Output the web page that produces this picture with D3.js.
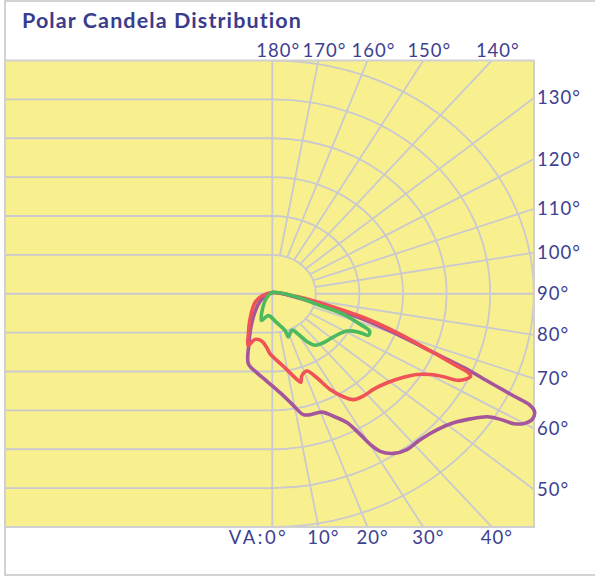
<!DOCTYPE html>
<html>
<head>
<meta charset="utf-8">
<script src="https://cdn.jsdelivr.net/npm/d3@7"></script>
<style>
  body { margin: 0; background: #fff; }
  svg { display: block; font-family: "Century Gothic", Lato, sans-serif; }
</style>
</head>
<body>
<svg id="chart" width="595" height="576"></svg>
<script>
// grid rings (candela units) and spoke angles (vertical angle, 0 = straight down)
const rings = [1, 2, 3, 4, 5, 6];
const spokes = [10, 20, 30, 40, 50, 60, 70, 80, 90, 100, 110, 120, 130, 140, 150, 160, 170];
const leftRows = [-5, -4, -3, -2, -1, 0, 1, 2, 3, 4, 5];

const topLabels = [180, 170, 160, 150, 140];
const rightLabels = [130, 120, 110, 100, 90, 80, 70, 60, 50];
const bottomLabels = [0, 10, 20, 30, 40];

// [vertical angle, candela]
const purpleCurve = [
  [180, 0.03], [80.1, 0.57], [75.0, 1.37], [72.6, 2.19], [70.0, 3.05], [67.9, 3.91],
  [66.6, 4.79], [65.4, 5.50], [64.6, 6.13], [64.2, 6.54], [63.2, 6.74], [61.5, 6.78],
  [60.0, 6.67], [58.9, 6.47], [58.3, 6.15], [57.3, 5.86], [54.7, 5.57], [51.4, 5.32],
  [47.3, 5.15], [42.2, 5.06], [37.6, 5.06], [34.1, 4.96], [31.4, 4.75], [30.1, 4.48],
  [29.1, 4.14], [27.3, 3.73], [24.0, 3.45], [20.5, 3.25], [15.6, 3.23], [12.9, 3.19],
  [9.5, 2.91], [4.0, 2.55], [-3.3, 2.25], [-10.0, 2.06], [-17.0, 1.88], [-22.4, 1.41],
  [-28.7, 1.04], [-35.8, 0.75], [-49.9, 0.42], [-71.3, 0.18]
];

const redCurve = [
  [180, 0.03], [82.7, 0.57], [76.7, 1.36], [73.7, 2.18], [70.7, 3.03], [67.9, 3.91],
  [66.3, 4.63], [65.7, 4.94], [64.9, 5.02], [63.6, 4.95], [62.3, 4.79], [61.5, 4.47],
  [60.2, 4.18], [58.0, 3.92], [54.5, 3.70], [49.0, 3.49], [43.3, 3.38], [38.5, 3.36],
  [34.4, 3.30], [31.6, 3.11], [28.3, 2.80], [25.3, 2.39], [21.7, 2.14], [17.7, 2.22],
  [16.0, 2.37], [14.3, 2.27], [7.7, 1.88], [-2.0, 1.54], [-5.3, 1.39], [-11.4, 1.24],
  [-18.7, 1.24], [-22.6, 1.44], [-27.7, 1.18], [-38.0, 0.83], [-60.3, 0.46], [-76.9, 0.25]
];

const greenCurve = [
  [180, 0.03], [83.3, 0.49], [75.1, 1.06], [72.1, 1.72], [68.7, 2.16], [66.7, 2.43],
  [64.1, 2.45], [63.6, 2.25], [60.7, 1.96], [51.7, 1.79], [42.9, 1.72], [36.5, 1.65],
  [32.9, 1.46], [29.8, 1.20], [25.7, 1.04], [18.4, 1.17], [17.2, 0.99], [7.7, 0.75],
  [-9.2, 0.57], [-19.7, 0.73], [-33.4, 0.38], [-52.8, 0.16]
];

const series = [
  { data: purpleCurve, color: "#a4559b" },
  { data: redCurve, color: "#ef5257" },
  { data: greenCurve, color: "#4cb95e" }
];

const box = { left: 5, right: 534, top: 60.5, bottom: 527 };
const cx = 272.3;
const unitX = 43.6;

const x = d3.scaleLinear()
  .domain([(box.left - cx) / unitX, (box.right - cx) / unitX])
  .range([box.left, box.right]);
const y = d3.scaleLinear().domain([-6, 6]).range([box.bottom, box.top]);

const rad = a => a * Math.PI / 180;
// angle measured from straight down, going round through the right side
const px = (a, v) => x(v * Math.sin(rad(a)));
const py = (a, v) => y(-v * Math.cos(rad(a)));

const svg = d3.select("#chart");
const gridColor = "#c9c9cf";
const textColor = "#3d418f";

// outer frame
svg.append("rect")
  .attr("x", 5).attr("y", 1).attr("width", 620).attr("height", 574)
  .attr("fill", "#fff").attr("stroke", "#d2d2d2").attr("stroke-width", 2);

svg.append("text")
  .attr("x", 22).attr("y", 28)
  .attr("fill", "#3a3c8c")
  .style("font-size", "21.5px").style("font-weight", "bold")
  .style("letter-spacing", "1.1px")
  .text("Polar Candela Distribution");

svg.append("clipPath").attr("id", "plotClip")
  .append("rect")
  .attr("x", box.left).attr("y", box.top)
  .attr("width", box.right - box.left).attr("height", box.bottom - box.top);

svg.append("rect")
  .attr("x", box.left).attr("y", box.top)
  .attr("width", box.right - box.left).attr("height", box.bottom - box.top)
  .attr("fill", "#f8f08e");

const grid = svg.append("g").attr("clip-path", "url(#plotClip)")
  .attr("stroke", gridColor).attr("stroke-width", 1.8).attr("fill", "none");

grid.selectAll(".row").data(leftRows).enter().append("line")
  .attr("x1", x.range()[0]).attr("x2", x(0))
  .attr("y1", d => y(d)).attr("y2", d => y(d));

grid.append("line")
  .attr("x1", x(0)).attr("x2", x(0))
  .attr("y1", box.top).attr("y2", box.bottom);

grid.selectAll(".ring").data(rings).enter().append("path")
  .attr("d", k => {
    const rx = x(k) - x(0), ry = y(0) - y(k);
    return `M${x(0)},${y(k)} A${rx},${ry} 0 0 1 ${x(0)},${y(-k)}`;
  });

grid.selectAll(".spoke").data(spokes).enter().append("line")
  .attr("x1", a => px(a, 1)).attr("y1", a => py(a, 1))
  .attr("x2", a => px(a, 14)).attr("y2", a => py(a, 14));

svg.append("rect")
  .attr("x", box.left).attr("y", box.top)
  .attr("width", box.right - box.left).attr("height", box.bottom - box.top)
  .attr("fill", "none").attr("stroke", "#d0d0d0").attr("stroke-width", 2);

// candela curves
const line = d3.line()
  .x(d => px(d[0], d[1]))
  .y(d => py(d[0], d[1]))
  .curve(d3.curveCatmullRomClosed.alpha(0.5));

svg.selectAll(".curve").data(series).enter().append("path")
  .attr("d", s => line(s.data))
  .attr("fill", "none")
  .attr("stroke", d => d.color)
  .attr("stroke-width", 3.6)
  .attr("stroke-linejoin", "round");

// angle labels
const labels = svg.append("g").attr("fill", textColor)
  .style("font-size", "18.5px").style("letter-spacing", "1px");
const yMax = y.domain()[1], xMax = x.domain()[1];

labels.selectAll(".top").data(topLabels).enter().append("text")
  .attr("x", a => x(yMax * Math.sin(rad(a)) / -Math.cos(rad(a))) + 6)
  .attr("y", 57)
  .attr("text-anchor", "middle")
  .text(a => a + "°");

labels.selectAll(".right").data(rightLabels).enter().append("text")
  .attr("x", box.right + 3)
  .attr("y", a => y(-xMax * Math.cos(rad(a)) / Math.sin(rad(a))) + 6.5)
  .text(a => a + "°");

labels.selectAll(".bottom").data(bottomLabels).enter().append("text")
  .attr("x", a => x(yMax * Math.tan(rad(a))) + (a === 0 ? 16 : 5))
  .attr("y", 544)
  .attr("text-anchor", a => a === 0 ? "end" : "middle")
  .style("letter-spacing", a => a === 0 ? "2.5px" : null)
  .text(a => (a === 0 ? "VA:" : "") + a + "°");
</script>
</body>
</html>
